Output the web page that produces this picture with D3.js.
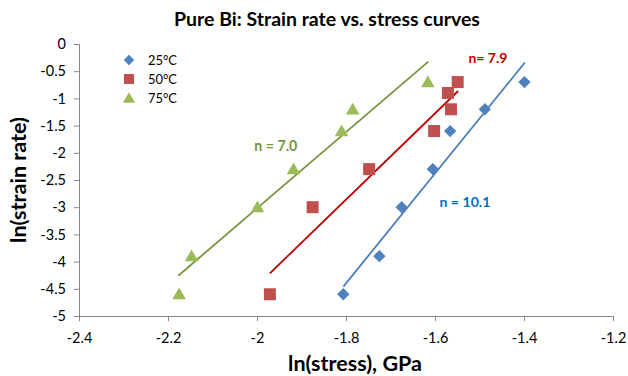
<!DOCTYPE html>
<html><head><meta charset="utf-8">
<script src="https://cdn.jsdelivr.net/npm/d3@7"></script>
<style>body{margin:0;background:#fff}svg{display:block}text{font-family:Lato,"Open Sans",sans-serif}</style>
</head><body><div id="chart"></div>
<script>
const seriesNames = ["25°C", "50°C", "75°C"];
const x25 = [-1.806, -1.725, -1.675, -1.605, -1.566, -1.488, -1.399];
const y25 = [-4.6, -3.9, -3.0, -2.3, -1.6, -1.2, -0.7];
const x50 = [-1.971, -1.875, -1.748, -1.602, -1.564, -1.571, -1.549];
const y50 = [-4.6, -3.0, -2.3, -1.6, -1.2, -0.9, -0.7];
const x75 = [-2.175, -2.147, -1.999, -1.918, -1.810, -1.785, -1.616];
const y75 = [-4.6, -3.9, -3.0, -2.3, -1.6, -1.2, -0.7];
// fitted trend lines (endpoints in data units)
const fit25 = [[-1.806, -4.46], [-1.398, -0.34]];
const fit50 = [[-1.971, -4.215], [-1.548, -0.864]];
const fit75 = [[-2.177, -4.26], [-1.615, -0.325]];
const nLabels = ["n = 10.1", "n= 7.9", "n = 7.0"];
const nPos = [[-1.590, -3.0], [-1.525, -0.35], [-2.006, -1.97]];
const xTicks = [-2.4, -2.2, -2, -1.8, -1.6, -1.4, -1.2];
const yTicks = [0, -0.5, -1, -1.5, -2, -2.5, -3, -3.5, -4, -4.5, -5];

const W = 628, H = 376;
const svg = d3.select("#chart").append("svg").attr("width", W).attr("height", H);
const x = d3.scaleLinear().domain([-2.4, -1.2]).range([79, 613]);
const y = d3.scaleLinear().domain([-5, 0]).range([316, 44]);

// font size such that a string has a given pixel width
function fitSize(str, weight, width) {
  const t = svg.append("text").attr("font-size", 20).attr("font-weight", weight).text(str);
  const w = t.node().getComputedTextLength();
  t.remove();
  return 20 * width / w;
}

const markerColors = ["#4F81BD", "#C0504D", "#9BBB59"];
const lineColors = ["#4A7EBB", "#C00000", "#77933C"];
const labelColors = ["#0070C0", "#C00000", "#77933C"];
const fmt = d => String(d);
const tickFs = Math.min(14.5, fitSize("-2.4", "normal", 27));

// axes
const xAxis = svg.append("g").attr("transform", "translate(0,316)")
  .call(d3.axisBottom(x).tickValues(xTicks).tickSize(5).tickFormat(fmt));
const yAxis = svg.append("g").attr("transform", "translate(79,0)")
  .call(d3.axisLeft(y).tickValues(yTicks).tickSize(5).tickFormat(fmt));
[xAxis, yAxis].forEach(g => {
  g.select(".domain").attr("stroke", "#868686");
  g.selectAll(".tick line").attr("stroke", "#868686");
  g.selectAll("text").attr("font-size", tickFs).attr("fill", "#000").style("font-family", "Lato");
});
xAxis.selectAll("text").attr("y", 27).attr("dy", 0);
yAxis.selectAll("text").attr("x", -13);

// trend lines
const fits = [fit25, fit50, fit75];
fits.forEach((f, i) => {
  svg.append("line")
    .attr("x1", x(f[0][0])).attr("y1", y(f[0][1]))
    .attr("x2", x(f[1][0])).attr("y2", y(f[1][1]))
    .attr("stroke", lineColors[i]).attr("stroke-width", 1.8);
});

// markers
const data = [[x25, y25], [x50, y50], [x75, y75]];
const shapes = [d3.symbolSquare, d3.symbolSquare, d3.symbolTriangle];
const sizes = [76, 144, 80];
const rot = [" rotate(45)", "", " translate(0,1.2)"];
data.forEach((d, i) => {
  const pts = d[0].map((v, j) => [v, d[1][j]]);
  svg.append("g").selectAll("path").data(pts).join("path")
    .attr("d", d3.symbol().type(shapes[i]).size(sizes[i]))
    .attr("transform", p => `translate(${x(p[0])},${y(p[1])})` + rot[i])
    .attr("fill", markerColors[i]);
});

// n labels
const nWidths = [51, 39, 43];
nLabels.forEach((t, i) => {
  svg.append("text").attr("x", x(nPos[i][0])).attr("y", y(nPos[i][1]))
    .attr("font-size", fitSize(t, "bold", nWidths[i])).attr("font-weight", "bold")
    .attr("fill", labelColors[i]).text(t);
});

// legend
const lsizes = [55, 100, 64];
const legFs = fitSize("25°C", "normal", 29);
seriesNames.forEach((s, i) => {
  const ly = 60 + i * 19;
  svg.append("path").attr("d", d3.symbol().type(shapes[i]).size(lsizes[i])())
    .attr("transform", `translate(129,${ly})` + rot[i])
    .attr("fill", markerColors[i]);
  svg.append("text").attr("x", 148).attr("y", ly + 5).attr("font-size", legFs).text(s);
});

// titles
const title = "Pure Bi: Strain rate vs. stress curves";
svg.append("text").attr("x", 327).attr("y", 26).attr("text-anchor", "middle")
  .attr("font-size", fitSize(title, "bold", 306)).attr("font-weight", "bold").text(title);
const xt = "ln(stress), GPa";
svg.append("text").attr("x", 355).attr("y", 371).attr("text-anchor", "middle")
  .attr("font-size", fitSize(xt, "bold", 134)).attr("font-weight", "bold").text(xt);
const yt = "ln(strain rate)";
svg.append("text").attr("transform", "translate(26,180) rotate(-90)").attr("text-anchor", "middle")
  .attr("font-size", fitSize(yt, "bold", 126)).attr("font-weight", "bold").text(yt);
</script></body></html>
